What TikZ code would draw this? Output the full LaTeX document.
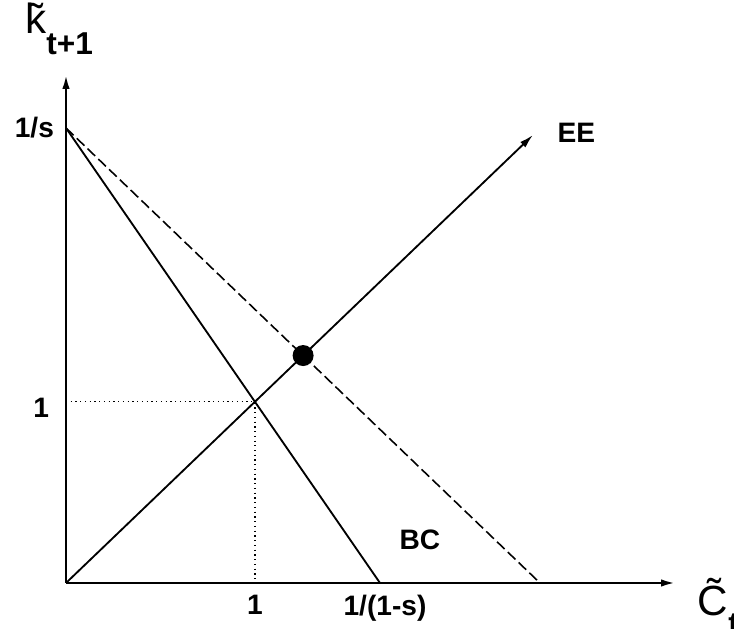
\documentclass[tikz,border=0pt]{standalone}
\usepackage{fontspec}
\setmainfont{Liberation Sans}
\usetikzlibrary{arrows.meta,positioning,calc}
\tikzset{
  axis/.style={line width=1.3pt, -{Latex[length=2.8mm,width=1.5mm]}},
  curve/.style={line width=1.05pt},
  budget/.style={line width=0.9pt, dash pattern=on 6pt off 2.5pt},
  guide/.style={line width=0.7pt, dotted},
  lbl/.style={font=\fontsize{16}{18}\selectfont\bfseries, inner sep=1pt},
  biglbl/.style={font=\fontsize{24}{26}\selectfont, inner sep=0pt},
  eqdot/.style={circle, fill=black, minimum size=0.42cm, inner sep=0pt},
}
\begin{document}
\begin{tikzpicture}
  \useasboundingbox (0,0) rectangle (14.68,12.58);
  % points
  \coordinate (O) at (1.32,0.92);
  \coordinate (ytop) at (1.32,11.08);
  \coordinate (xtip) at (13.50,0.92);
  \coordinate (ys) at (1.32,10.02);
  \coordinate (bcend) at (7.60,0.92);
  \coordinate (ddend) at (10.80,0.92);
  \coordinate (eetip) at (10.66,9.88);
  \coordinate (one) at (intersection of ys--bcend and O--eetip);
  \coordinate (eq) at (intersection of ys--ddend and O--eetip);
  % axes
  \draw[axis] (O) -- (ytop);
  \draw[axis] (O) -- (xtip);
  % lines
  \draw[budget] (ys) -- (ddend);
  \draw[curve] (ys) -- (bcend);
  \draw[curve, -{Latex[length=2.8mm,width=1.5mm]}] (O) -- (eetip);
  \draw[guide] (O |- one) -- (one) -- (one |- O);
  \node[eqdot] (eqpt) at (eq) {};
  % labels
  \node[lbl, left=0.2cm of ys] (lys) {1/s};
  \node[lbl, left=0.3cm of O |- one, yshift=-0.12cm] (lone) {1};
  \node[lbl, below=0.2cm of one |- O] (xone) {1};
  \node[lbl, below=0.2cm of bcend, xshift=0.1cm] (xbc) {1/(1-s)};
  \node[lbl, right=0.45cm of eetip, yshift=0.05cm] (ee) {EE};
  \node[lbl] (bc) at (8.4,1.78) {BC};
  \node[biglbl, anchor=west] (kt) at (0.5,12.0) {\~{k}\raisebox{-0.5em}{\fontsize{18}{20}\selectfont\bfseries t+1}};
  \node[biglbl, anchor=west] (ct) at (13.95,0.45) {\~{C}\raisebox{-0.45em}{\fontsize{18}{20}\selectfont\bfseries t}\raisebox{0.5em}{\fontsize{18}{20}\selectfont y}};
\end{tikzpicture}
\end{document}
